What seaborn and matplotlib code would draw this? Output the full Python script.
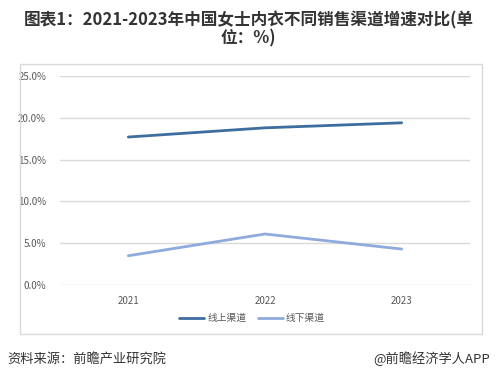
import matplotlib
matplotlib.use("Agg")
import matplotlib.pyplot as plt
import seaborn as sns
import pandas as pd
from matplotlib.patches import Rectangle

# --- data ---
years = ["2021", "2022", "2023"]
online = [17.7, 18.8, 19.4]
offline = [3.5, 6.1, 4.3]
series_names = ["线上渠道", "线下渠道"]
colors = ["#3E6E9F", "#8FAADC"]

df = pd.DataFrame({
    "year": years * 2,
    "value": online + offline,
    "channel": [series_names[0]] * 3 + [series_names[1]] * 3,
})

sns.set_theme(style="white")
plt.rcParams["font.family"] = ["Noto Sans CJK SC", "DejaVu Sans"]

fig = plt.figure(figsize=(4.97, 3.84), dpi=100)

# chart frame
frame = Rectangle((20 / 497, 1 - 334 / 384), 462 / 497, 270 / 384,
                  transform=fig.transFigure, fill=False,
                  edgecolor="#D9D9D9", linewidth=1.0)
fig.patches.append(frame)

ax = fig.add_axes([60 / 497, 1 - 285 / 384, 410 / 497, 209 / 384])
sns.lineplot(data=df, x="year", y="value", hue="channel",
             palette=colors, linewidth=2, ax=ax, legend=False)

ax.set_xlim(-0.5, 2.5)
ax.set_ylim(0, 25)
ax.set_yticks([0, 5, 10, 15, 20, 25])
ax.set_yticklabels([f"{v:.1f}%" for v in [0, 5, 10, 15, 20, 25]])
ax.yaxis.grid(True, color="#D9D9D9", linewidth=1)
ax.xaxis.grid(False)
for s in ax.spines.values():
    s.set_visible(False)
ax.tick_params(axis="both", length=0, labelsize=7, labelcolor="#595959")
ax.tick_params(axis="x", pad=8)
ax.tick_params(axis="y", pad=10)
ax.set_xlabel("")
ax.set_ylabel("")

# legend
handles = [plt.Line2D([], [], color=c, linewidth=2) for c in colors]
fig.legend(handles, series_names, loc="center", ncol=2,
           bbox_to_anchor=(252 / 497, 1 - 318 / 384), frameon=False,
           fontsize=7, labelcolor="#595959", handlelength=2.6,
           handletextpad=0.3, columnspacing=1.2)

# title
fig.text(0.5, 1 - 20 / 384, "图表1：2021-2023年中国女士内衣不同销售渠道增速对比(单",
         ha="center", va="center", fontsize=12, fontweight="bold", color="#333333")
fig.text(0.5, 1 - 38 / 384, "位：%)",
         ha="center", va="center", fontsize=12, fontweight="bold", color="#333333")

# footer
fig.text(7 / 497, 1 - 359 / 384, "资料来源：前瞻产业研究院",
         ha="left", va="center", fontsize=9.5, color="#333333")
fig.text(490 / 497, 1 - 359 / 384, "@前瞻经济学人APP",
         ha="right", va="center", fontsize=9.5, color="#333333")

fig.savefig("out.png", dpi=100, facecolor="white")
